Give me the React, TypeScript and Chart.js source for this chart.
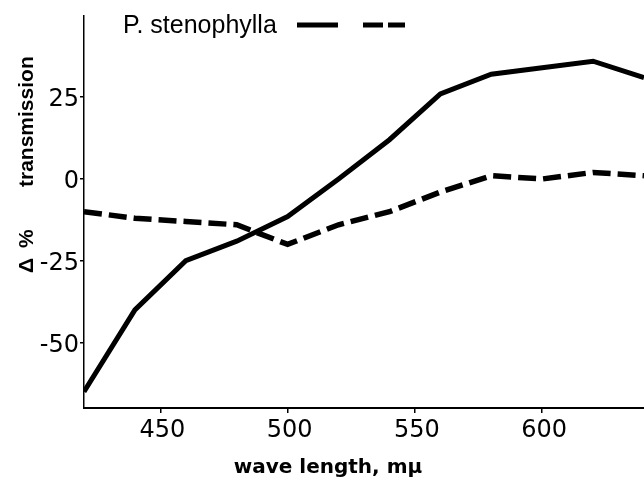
import React, { useEffect, useRef } from "react";
import { Chart, registerables } from "chart.js";

Chart.register(...registerables);

const wavelengths = [420, 440, 460, 480, 500, 520, 540, 560, 580, 600, 620, 640];
const solidSeries = [-65, -40, -25, -19, -11.5, 0, 12, 26, 32, 34, 36, 31];
const dashedSeries = [-10, -12, -13, -14, -20, -14, -10, -4, 1, 0, 2, 1];
const xTicks = [450, 500, 550, 600];
const yTicks = [-50, -25, 0, 25];
const legendLabel = "P. stenophylla";
const xTitle = "wave length, m\u03bc";
const yTitleParts = ["\u0394", "%", "transmission"];

const overlay = {
  id: "overlay",
  afterDraw(chart: any) {
    const ctx = chart.ctx as CanvasRenderingContext2D;
    ctx.save();
    ctx.fillStyle = "#000";
    ctx.strokeStyle = "#000";
    // legend
    ctx.font = '25px "Liberation Sans"';
    ctx.textAlign = "left";
    ctx.textBaseline = "alphabetic";
    ctx.fillText(legendLabel, 123, 33);
    ctx.lineWidth = 5;
    ctx.beginPath();
    ctx.moveTo(297, 25);
    ctx.lineTo(338, 25);
    ctx.stroke();
    ctx.setLineDash([20, 5]);
    ctx.beginPath();
    ctx.moveTo(363, 25);
    ctx.lineTo(405, 25);
    ctx.stroke();
    ctx.setLineDash([]);
    // x title
    ctx.font = 'bold 20px "DejaVu Sans"';
    ctx.textAlign = "center";
    ctx.fillText(xTitle, 328, 473);
    // y title
    ctx.font = 'bold 21px "Liberation Sans"';
    ctx.textAlign = "left";
    const starts = [273, 248, 187];
    yTitleParts.forEach((t, i) => {
      ctx.save();
      ctx.translate(33, starts[i]);
      ctx.rotate(-Math.PI / 2);
      ctx.fillText(t, 0, 0);
      ctx.restore();
    });
    ctx.restore();
  },
};

export default function App() {
  const ref = useRef<HTMLCanvasElement | null>(null);
  useEffect(() => {
    if (!ref.current) return;
    const chart = new Chart(ref.current, {
      type: "line",
      data: {
        labels: wavelengths,
        datasets: [
          {
            label: legendLabel,
            data: wavelengths.map((w, i) => ({ x: w, y: solidSeries[i] })),
            borderColor: "#000",
            borderWidth: 5,
            pointRadius: 0,
            tension: 0,
            fill: false,
          },
          {
            label: legendLabel + " (dashed)",
            data: wavelengths.map((w, i) => ({ x: w, y: dashedSeries[i] })),
            borderColor: "#000",
            borderWidth: 5.5,
            borderDash: [18, 7],
            pointRadius: 0,
            tension: 0,
            fill: false,
          },
        ],
      },
      options: {
        animation: false,
        responsive: false,
        maintainAspectRatio: false,
        layout: { padding: { top: 10, right: 0, left: 0, bottom: 0 } },
        plugins: {
          legend: { display: false },
          tooltip: { enabled: false },
          title: { display: false },
        },
        scales: {
          x: {
            type: "linear",
            min: 420,
            max: 640,
            afterBuildTicks: (s: any) => {
              s.ticks = xTicks.map((v) => ({ value: v }));
            },
            afterFit: (s: any) => {
              s.height = 74;
            },
            grid: {
              display: true,
              drawOnChartArea: false,
              drawTicks: true,
              tickLength: 5,
              color: "#000",
              lineWidth: 1.5,
            },
            border: { display: true, color: "#000", width: 2 },
            ticks: {
              color: "#000",
              padding: 3,
              maxRotation: 0,
              labelOffset: 2,
              font: { family: "DejaVu Sans", size: 24 },
            },
          },
          y: {
            type: "linear",
            min: -70,
            max: 50,
            afterBuildTicks: (s: any) => {
              s.ticks = yTicks.map((v) => ({ value: v }));
            },
            afterFit: (s: any) => {
              s.width = 84;
            },
            grid: {
              display: true,
              drawOnChartArea: false,
              drawTicks: true,
              tickLength: 4,
              color: "#000",
              lineWidth: 1.5,
            },
            border: { display: true, color: "#000", width: 1.5 },
            ticks: {
              color: "#000",
              padding: 1,
              labelOffset: 3,
              font: { family: "DejaVu Sans", size: 24 },
            },
          },
        },
      },
      plugins: [overlay],
    });
    return () => chart.destroy();
  }, []);
  return (
    <div style={{ position: "fixed", left: 0, top: 0, width: 644, height: 482, background: "#fff" }}>
      <canvas ref={ref} width={644} height={482} style={{ display: "block" }} />
    </div>
  );
}
